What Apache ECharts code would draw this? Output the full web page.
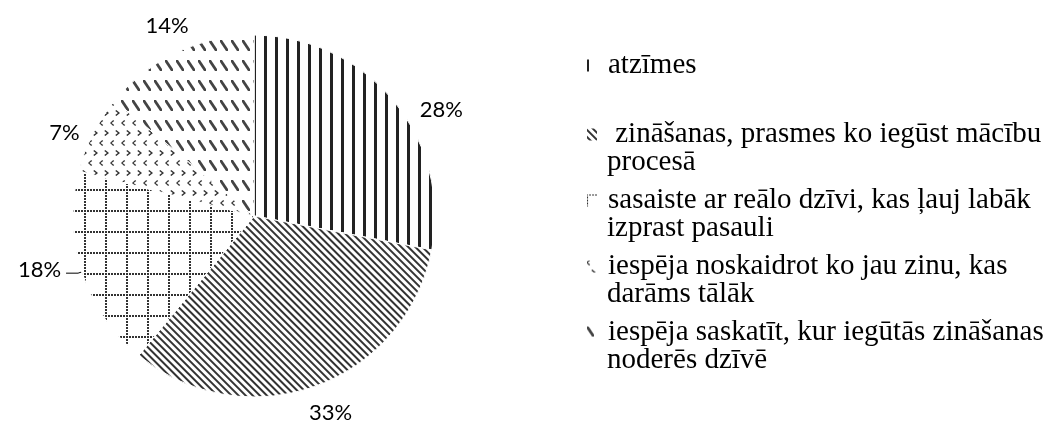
<!DOCTYPE html>
<html><head><meta charset="utf-8">
<script src="https://cdn.jsdelivr.net/npm/echarts@6/dist/echarts.min.js"></script>
<style>html,body{margin:0;padding:0;background:#fff}#c{width:1049px;height:426px}</style>
</head><body><div id="c"></div>
<script>
const categories = [
  'atzīmes',
  'zināšanas, prasmes ko iegūst mācību procesā',
  'sasaiste ar reālo dzīvi, kas ļauj labāk izprast pasauli',
  'iespēja noskaidrot ko jau zinu, kas darāms tālāk',
  'iespēja saskatīt, kur iegūtās zināšanas noderēs dzīvē'
];
// legend text, one entry per printed line (first line carries the icon)
const legendFirstLines = [
  'atzīmes',
  ' zināšanas, prasmes ko iegūst mācību',
  'sasaiste ar reālo dzīvi, kas ļauj labāk',
  'iespēja noskaidrot ko jau zinu, kas',
  'iespēja saskatīt, kur iegūtās zināšanas'
];
const legendSecondLines = ['', 'procesā', 'izprast pasauli', 'darāms tālāk', 'noderēs dzīvē'];
const values = [28, 33, 18, 7, 14];

const decals = [
  { symbol: 'rect', symbolSize: 1, dashArrayX: [3, 8], dashArrayY: [1, 0], rotation: 0, color: '#222' },
  { symbol: 'rect', symbolSize: 1, dashArrayX: [1, 0], dashArrayY: [2, 3], rotation: Math.PI / 4, color: '#333' },
  { symbol: 'rect', symbolSize: 1, rotation: 0,
    dashArrayX: [[2, 1], [2, 19], [2, 19], [2, 19], [2, 19], [2, 19], [2, 19]],
    dashArrayY: [2, 1, 2, 1, 2, 1, 2, 1, 2, 1, 2, 1, 2, 1], color: '#333' },
  { symbol: 'path://M3,0 L4,1 L1.5,3 L4,5 L3,6 L0,3 Z M6,10 L9.5,13 L6,16 L5,15 L7.5,13 L5,11 Z',
    symbolSize: 1, symbolKeepAspect: false, rotation: 0, dashArrayX: [10, 1], dashArrayY: [16, 4], color: '#333' },
  { symbol: 'path://M0,0 L2,0 L8,9 L8,11 L6,11 L0,2 Z',
    symbolSize: 1, symbolKeepAspect: false, rotation: 0, dashArrayX: [8, 3], dashArrayY: [11, 9], color: '#444' }
];
const firstLineCenters = [65, 134, 200, 266, 332];
const labelNudges = [[7, 14], [-22, 19], [0, -3], [7, 3], [28, -19]];

const legendBase = {
  orient: 'vertical', left: 585, padding: 0, icon: 'rect',
  itemWidth: 12, itemHeight: 14, selectedMode: false,
  textStyle: { fontFamily: 'Liberation Serif', fontSize: 29, lineHeight: 28, color: '#000', padding: [0, 0, 0, 5] }
};
const legends = [];
categories.forEach((name, i) => {
  legends.push(Object.assign({}, legendBase, {
    data: [name], top: firstLineCenters[i] - 14, formatter: () => legendFirstLines[i]
  }));
  if (legendSecondLines[i]) {
    legends.push(Object.assign({}, legendBase, {
      data: [{ name: name, icon: 'none' }], top: firstLineCenters[i] + 28 - 14,
      formatter: () => legendSecondLines[i]
    }));
  }
});

const chart = echarts.init(document.getElementById('c'), null, { renderer: 'canvas' });
chart.setOption({
  backgroundColor: '#fff',
  animation: false,
  aria: { enabled: true, decal: { show: true } },
  legend: legends,
  series: [{
    type: 'pie',
    center: [254, 216],
    radius: 181,
    startAngle: 90,
    clockwise: true,
    avoidLabelOverlap: false,
    itemStyle: { borderColor: '#fff', borderWidth: 1 },
    label: {
      show: true, position: 'outside', fontFamily: 'Lato', fontSize: 22, color: '#000',
      formatter: p => p.value + '%'
    },
    labelLine: { show: false, length: 8, length2: 8 },
    labelLayout: p => ({ dx: labelNudges[p.dataIndex][0], dy: labelNudges[p.dataIndex][1] }),
    data: categories.map((name, i) => ({
      name: name,
      value: values[i],
      itemStyle: { color: '#fff', decal: decals[i] },
      labelLine: i === 2 ? { show: true, length: 4, length2: 12, lineStyle: { color: '#000', width: 1 } } : undefined
    }))
  }]
});
</script></body></html>
